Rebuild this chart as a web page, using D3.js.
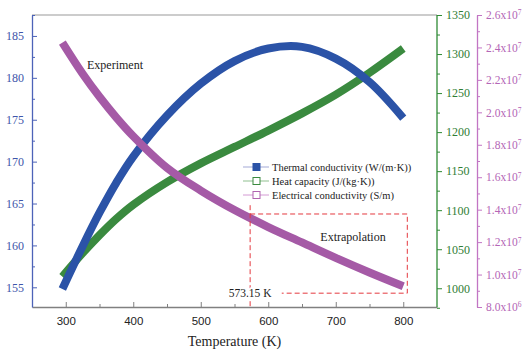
<!DOCTYPE html>
<html>
<head>
<meta charset="utf-8">
<script src="https://cdn.jsdelivr.net/npm/d3@7"></script>
<style>
  body { margin: 0; background: #fff; }
  svg { display: block; }
</style>
</head>
<body>
<svg width="525" height="351"></svg>
<script>
// data
const temps = [295, 325, 350, 375, 400, 450, 500, 550, 600, 650, 700, 750, 800];
const thermal = [154.8, 159.9, 163.9, 167.5, 170.6, 175.5, 179.3, 182.0, 183.5, 183.7, 182.3, 179.5, 175.2];
const heatCap = [1015, 1045, 1068, 1089, 1107, 1136, 1160, 1181, 1202, 1224, 1248, 1276, 1307];
const elec = [2.43e7, 2.238e7, 2.096e7, 1.968e7, 1.853e7, 1.658e7, 1.518e7, 1.398e7, 1.293e7, 1.198e7, 1.103e7, 1.013e7, 9.28e6];

const xTicks = [300, 400, 500, 600, 700, 800];
const leftTicks = [155, 160, 165, 170, 175, 180, 185];
const greenTicks = [1000, 1050, 1100, 1150, 1200, 1250, 1300, 1350];
const elecTicks = [8e6, 1e7, 1.2e7, 1.4e7, 1.6e7, 1.8e7, 2e7, 2.2e7, 2.4e7, 2.6e7];

const seriesNames = ["Thermal conductivity (W/(m\u00b7K))", "Heat capacity (J/(kg\u00b7K))", "Electrical conductivity (S/m)"];

const cutT = 573.15;

const SERIF = "'Liberation Serif', 'Times New Roman', Times, serif";
const SANS = "'Liberation Sans', Arial, Helvetica, sans-serif";

let svg = d3.select("svg"),
    margin = {top: 15, left: 32, right: 88, bottom: 44},
    width = 525 - margin.left - margin.right,
    height = 351 - margin.top - margin.bottom;

const blue = "#2b53a7", green = "#3a8a3f", pink = "#a55aa6";
const blueAxis = "#4d63b8", greenAxis = "#2f8a35", pinkAxis = "#c275c4";

let x = d3.scaleLinear().domain([250, 850]).range([margin.left, margin.left + width]);
let yL = d3.scaleLinear().domain([152.65, 187.5]).range([margin.top + height, margin.top]);
let yG = d3.scaleLinear().domain([976, 1350]).range([margin.top + height, margin.top]);
let yE = d3.scaleLinear().domain([8e6, 2.6e7]).range([margin.top + height, margin.top]);

let g = svg.append("g").style("font-family", SERIF);

// top frame
g.append("line")
    .attr("x1", margin.left).attr("x2", margin.left + width)
    .attr("y1", margin.top).attr("y2", margin.top)
    .attr("stroke", "#999").attr("stroke-width", 1);

// curves
function band(ys, scale, color) {
    let line = d3.line()
        .x((d, i) => x(temps[i]))
        .y(d => scale(d))
        .curve(d3.curveCatmullRom.alpha(0.5));
    g.append("path")
        .attr("d", line(ys))
        .attr("fill", "none")
        .attr("stroke", color)
        .attr("stroke-width", 8)
        .attr("stroke-linecap", "butt");
}
band(heatCap, yG, green);
band(thermal, yL, blue);
band(elec, yE, pink);

// annotations
const red = "#e4393f";
g.append("path")
    .attr("d", "M" + x(cutT) + "," + yL(164.8) + "V" + (margin.top + height))
    .attr("fill", "none").attr("stroke", red).attr("stroke-dasharray", "5,3");
g.append("path")
    .attr("d", "M" + x(cutT) + "," + yL(163.75) + "H" + x(806) + "V" + yL(154.3) + "H" + x(620))
    .attr("fill", "none").attr("stroke", red).attr("stroke-dasharray", "5,3");

function label(tx, ty, size, str) {
    return g.append("text").attr("x", tx).attr("y", ty)
        .style("font-family", SERIF).style("font-size", size + "px")
        .attr("text-anchor", "middle").attr("fill", "#222").text(str);
}
label(x(cutT), yL(154.3) + 4, 11.5, "573.15 K")
    .attr("stroke", "#fff").attr("stroke-width", 4).style("paint-order", "stroke");
label(353, 241, 12, "Extrapolation");
label(115, 69, 12, "Experiment");

// axes
function styleAxis(sel, color, fontColor, family, size) {
    sel.attr("font-family", null).attr("font-size", null);
    sel.selectAll(".domain").attr("stroke", color).attr("stroke-width", 1.3);
    sel.selectAll(".tick line").attr("stroke", color);
    sel.selectAll(".tick text").attr("fill", fontColor)
        .style("font-family", family).style("font-size", size + "px");
}

// bottom
let xAxis = g.append("g").attr("transform", "translate(0," + (margin.top + height) + ")")
    .call(d3.axisBottom(x).tickValues(xTicks).tickSizeInner(-5).tickSizeOuter(0).tickPadding(10));
styleAxis(xAxis, "#808080", "#222", SANS, 11.5);
g.append("g").attr("transform", "translate(0," + (margin.top + height) + ")")
    .call(d3.axisBottom(x).tickValues(xTicks.map(t => t - 50).concat([850]).filter(t => t > 250 && t < 850)).tickSize(-3).tickFormat(""))
    .call(s => { s.select(".domain").remove(); s.selectAll("line").attr("stroke", "#808080"); });

g.append("text").attr("x", margin.left + width / 2).attr("y", 346)
    .style("font-family", SERIF).style("font-size", "14px")
    .attr("text-anchor", "middle").attr("fill", "#222").text("Temperature (K)");

// left
let lAxis = g.append("g").attr("transform", "translate(" + margin.left + ",0)")
    .call(d3.axisLeft(yL).tickValues(leftTicks).tickSizeInner(-5).tickSizeOuter(0).tickPadding(8));
styleAxis(lAxis, blueAxis, "#3e56aa", SERIF, 12);
g.append("g").attr("transform", "translate(" + margin.left + ",0)")
    .call(d3.axisLeft(yL).tickValues(leftTicks.map(t => t + 2.5)).tickSize(-3).tickFormat(""))
    .call(s => { s.select(".domain").remove(); s.selectAll("line").attr("stroke", blueAxis); });

// right green
let gx = margin.left + width;
let gAxis = g.append("g").attr("transform", "translate(" + gx + ",0)")
    .call(d3.axisRight(yG).tickValues(greenTicks).tickSizeInner(5).tickSizeOuter(0).tickPadding(4).tickFormat(d3.format("d")));
styleAxis(gAxis, greenAxis, "#2f7d34", SERIF, 12);
gAxis.select(".domain").attr("d", "M0," + (margin.top + height) + "V" + margin.top);
g.append("g").attr("transform", "translate(" + gx + ",0)")
    .call(d3.axisRight(yG).tickValues(greenTicks.slice(0, -1).map(t => t + 25).concat([975])).tickSize(3).tickFormat(""))
    .call(s => { s.select(".domain").remove(); s.selectAll("line").attr("stroke", greenAxis); });

// right magenta
let ex = gx + 40;
let eAxis = g.append("g").attr("transform", "translate(" + ex + ",0)")
    .call(d3.axisRight(yE).tickValues(elecTicks).tickSizeInner(5).tickSizeOuter(0).tickPadding(4).tickFormat(""));
styleAxis(eAxis, pinkAxis, pinkAxis, SERIF, 11.5);
eAxis.selectAll(".tick").append("text")
    .attr("x", 9).attr("dy", "0.32em").attr("fill", "#b466b6")
    .style("font-family", SERIF).style("font-size", "11.5px")
    .each(function (d) {
        let e = Math.floor(Math.log10(d));
        let m = (d / Math.pow(10, e)).toFixed(1);
        let t = d3.select(this);
        t.append("tspan").text(m + "x10");
        t.append("tspan").style("font-size", "7.5px").attr("dy", "-0.5em").text(e);
    });
g.append("g").attr("transform", "translate(" + ex + ",0)")
    .call(d3.axisRight(yE).tickValues(elecTicks.slice(0, -1).map(t => t + 1e6)).tickSize(3).tickFormat(""))
    .call(s => { s.select(".domain").remove(); s.selectAll("line").attr("stroke", pinkAxis); });

// legend
const legendLines = ["#a3a9d6", "#8fbf8f", "#d49ad4"];
const legendFill = [blue, "#fff", "#fff"];
const legendStroke = ["#2b53a7", "#3a8a3f", "#b064b0"];
let legend = g.append("g").attr("transform", "translate(243,167)")
    .selectAll("g").data(seriesNames).enter().append("g")
    .attr("transform", (d, i) => "translate(0," + (i * 14) + ")");
legend.append("line").attr("x1", 0).attr("x2", 26).attr("y1", 0).attr("y2", 0)
    .attr("stroke", (d, i) => legendLines[i]).attr("stroke-width", 1);
legend.append("rect").attr("x", 10).attr("y", -3.5).attr("width", 7).attr("height", 7)
    .attr("fill", (d, i) => legendFill[i]).attr("stroke", (d, i) => legendStroke[i]).attr("stroke-width", 1);
legend.append("text").attr("x", 29).attr("dy", "0.35em")
    .style("font-family", SERIF).style("font-size", "10.5px").attr("fill", "#222")
    .text(d => d);
</script>
</body>
</html>
